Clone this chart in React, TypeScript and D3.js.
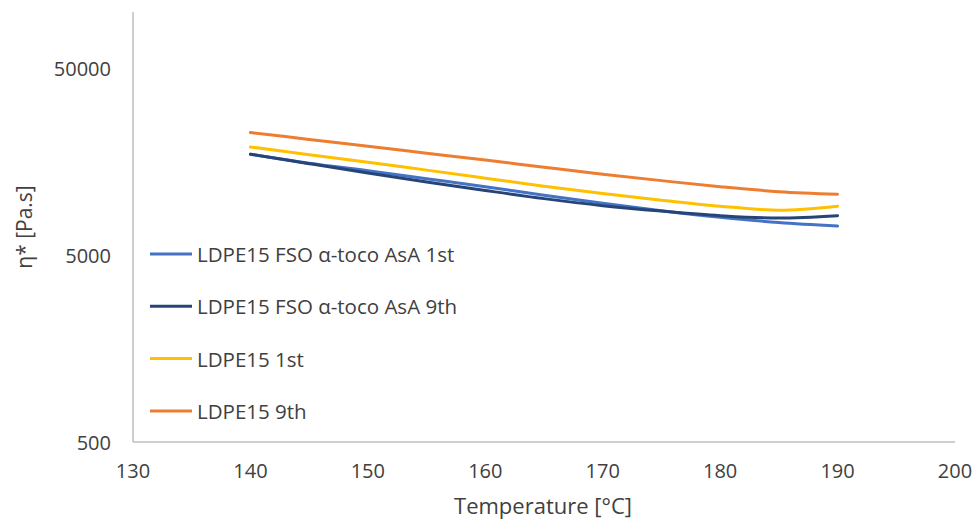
import React from "react";
import * as d3 from "d3";

const temperatures = [140, 145, 150, 155, 160, 165, 170, 175, 180, 185, 190];

const seriesNames = [
  "LDPE15 FSO α-toco AsA 1st",
  "LDPE15 FSO α-toco AsA 9th",
  "LDPE15 1st",
  "LDPE15 9th",
];

const ldpeFsoTocoAsA1st = [17340, 15520, 14160, 12830, 11620, 10470, 9480, 8650, 7980, 7470, 7150];
const ldpeFsoTocoAsA9th = [17340, 15430, 13760, 12320, 11090, 10030, 9200, 8600, 8130, 7890, 8130];
const ldpe1st = [18970, 17230, 15710, 14250, 12910, 11690, 10670, 9840, 9140, 8700, 9140];
const ldpe9th = [22650, 20810, 19110, 17560, 16130, 14770, 13560, 12520, 11620, 10930, 10590];

const seriesValues = [ldpeFsoTocoAsA1st, ldpeFsoTocoAsA9th, ldpe1st, ldpe9th];
const seriesColors = ["#4472C4", "#264478", "#FFC000", "#ED7D31"];

const xTicks = [130, 140, 150, 160, 170, 180, 190, 200];
const yTicks = [500, 5000, 50000];

const xTitle = "Temperature [°C]";
const yTitle = "η* [Pa.s]";

export default function App() {
  const width = 975;
  const height = 520;
  const left = 133;
  const right = 955;
  const top = 12;
  const bottom = 442;

  const x = d3.scaleLinear().domain([130, 200]).range([left, right]);
  const y = d3.scaleLog().domain([500, 100000]).range([bottom, top]);

  const line = d3
    .line<[number, number]>()
    .x((d) => x(d[0]))
    .y((d) => y(d[1]))
    .curve(d3.curveCatmullRom.alpha(0.5));

  const font = "'Open Sans', 'Noto Sans', sans-serif";
  const textColor = "#404040";

  return (
    <svg
      width={width}
      height={height}
      style={{ position: "absolute", left: 0, top: 0, background: "#fff" }}
      fontFamily={font}
    >
      <line x1={left} x2={left} y1={top} y2={bottom} stroke="#bfbfbf" strokeWidth={1.5} />
      <line x1={left} x2={right} y1={bottom} y2={bottom} stroke="#bfbfbf" strokeWidth={1.5} />

      {yTicks.map((t) => (
        <text key={t} x={111} y={y(t)} textAnchor="end" dominantBaseline="central" fontSize={20} fill={textColor}>
          {t}
        </text>
      ))}
      {xTicks.map((t) => (
        <text key={t} x={x(t)} y={470} textAnchor="middle" dominantBaseline="central" fontSize={20} fill={textColor}>
          {t}
        </text>
      ))}

      <text x={543} y={505} textAnchor="middle" dominantBaseline="central" fontSize={22} fill={textColor}>
        {xTitle}
      </text>
      <text
        transform={`translate(24, 227) rotate(-90)`}
        textAnchor="middle"
        dominantBaseline="central"
        fontSize={21}
        fill={textColor}
      >
        {yTitle}
      </text>

      {seriesValues.map((vals, i) => (
        <path
          key={seriesNames[i]}
          d={line(temperatures.map((t, j) => [t, vals[j]] as [number, number])) || ""}
          fill="none"
          stroke={seriesColors[i]}
          strokeWidth={3}
          strokeLinecap="round"
        />
      ))}

      {seriesNames.map((name, i) => {
        const ly = 254 + i * 52.3;
        return (
          <g key={name}>
            <line x1={150} x2={192} y1={ly} y2={ly} stroke={seriesColors[i]} strokeWidth={3} />
            <text x={197} y={ly} dominantBaseline="central" fontSize={20.5} fill={textColor}>
              {name}
            </text>
          </g>
        );
      })}
    </svg>
  );
}
